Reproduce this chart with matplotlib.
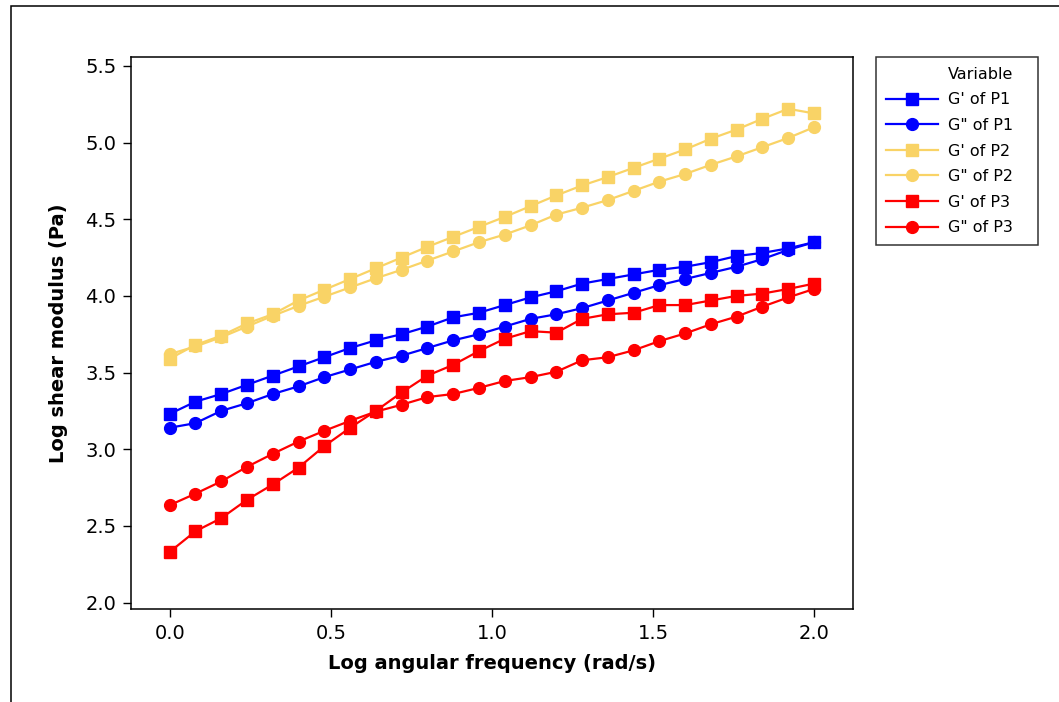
import numpy as np
import matplotlib
matplotlib.use('Agg')
import matplotlib.pyplot as plt
from matplotlib.lines import Line2D
from matplotlib.patches import Rectangle

# log angular frequency (rad/s)
log_freq = [0.00, 0.08, 0.16, 0.24, 0.32, 0.40, 0.48, 0.56, 0.64, 0.72, 0.80, 0.88, 0.96,
            1.04, 1.12, 1.20, 1.28, 1.36, 1.44, 1.52, 1.60, 1.68, 1.76, 1.84, 1.92, 2.00]

# log shear modulus (Pa)
g1_p1 = [3.23, 3.31, 3.36, 3.42, 3.48, 3.54, 3.60, 3.66, 3.71, 3.75, 3.80, 3.86, 3.89,
         3.94, 3.99, 4.03, 4.08, 4.11, 4.14, 4.17, 4.19, 4.22, 4.26, 4.28, 4.31, 4.35]
g2_p1 = [3.14, 3.17, 3.25, 3.30, 3.36, 3.41, 3.47, 3.52, 3.57, 3.61, 3.66, 3.71, 3.75,
         3.80, 3.85, 3.88, 3.92, 3.97, 4.02, 4.07, 4.11, 4.15, 4.19, 4.24, 4.30, 4.35]
g1_p2 = [3.59, 3.68, 3.74, 3.82, 3.88, 3.97, 4.04, 4.11, 4.18, 4.25, 4.32, 4.385, 4.45,
         4.515, 4.585, 4.655, 4.72, 4.775, 4.835, 4.895, 4.955, 5.025, 5.085, 5.155, 5.22, 5.19]
g2_p2 = [3.62, 3.67, 3.73, 3.80, 3.87, 3.935, 3.995, 4.055, 4.115, 4.17, 4.23, 4.29, 4.35,
         4.40, 4.46, 4.53, 4.575, 4.625, 4.685, 4.745, 4.795, 4.855, 4.91, 4.97, 5.03, 5.10]
g1_p3 = [2.33, 2.465, 2.55, 2.67, 2.77, 2.88, 3.02, 3.14, 3.25, 3.37, 3.48, 3.55, 3.64,
         3.72, 3.77, 3.76, 3.85, 3.88, 3.89, 3.94, 3.94, 3.97, 4.00, 4.015, 4.045, 4.08]
g2_p3 = [2.635, 2.71, 2.79, 2.885, 2.97, 3.05, 3.12, 3.185, 3.245, 3.29, 3.34, 3.36, 3.40,
         3.445, 3.47, 3.505, 3.58, 3.60, 3.645, 3.705, 3.755, 3.815, 3.865, 3.93, 3.99, 4.045]

labels = ["G' of P1", 'G" of P1', "G' of P2", 'G" of P2', "G' of P3", 'G" of P3']
series = [g1_p1, g2_p1, g1_p2, g2_p2, g1_p3, g2_p3]
colors = ['#0000FF', '#0000FF', '#F9D366', '#F9D366', '#FF0000', '#FF0000']
markers = ['s', 'o', 's', 'o', 's', 'o']

plt.rcParams['font.family'] = ['DejaVu Sans']

fig = plt.figure(figsize=(10.59, 7.02), dpi=100)
ax = fig.add_axes([0.1237, 0.1325, 0.6815, 0.7859])

for y, lab, c, m in zip(series, labels, colors, markers):
    ax.plot(log_freq, y, color=c, marker=m, markersize=8.5, linewidth=1.6, label=lab)

ax.set_xlim(-0.12, 2.12)
ax.set_ylim(1.958, 5.556)
ax.set_xticks([0.0, 0.5, 1.0, 1.5, 2.0])
ax.set_yticks([2.0, 2.5, 3.0, 3.5, 4.0, 4.5, 5.0, 5.5])
ax.xaxis.set_major_formatter(matplotlib.ticker.FormatStrFormatter('%.1f'))
ax.yaxis.set_major_formatter(matplotlib.ticker.FormatStrFormatter('%.1f'))
ax.tick_params(direction='out', length=6, width=1, labelsize=14, pad=4.5)
for sp in ax.spines.values():
    sp.set_linewidth(1.1)

ax.set_xlabel('Log angular frequency (rad/s)', fontsize=14, fontweight='bold', labelpad=8)
ax.set_ylabel('Log shear modulus (Pa)', fontsize=14, fontweight='bold', labelpad=12)

# legend with the "Variable" heading left-aligned with the labels
handles, labs = ax.get_legend_handles_labels()
head = Line2D([], [], linestyle='none', marker=None)
leg = fig.legend([head] + handles, ['Variable'] + [l + '   ' for l in labs],
                 loc='upper left', bbox_to_anchor=(876 / 1059, 1 - 57.3 / 702),
                 bbox_transform=fig.transFigure, borderaxespad=0,
                 fontsize=11.5, handlelength=3.3, handletextpad=0.6,
                 labelspacing=0.66, borderpad=0.6, fancybox=False,
                 frameon=True, edgecolor='black')
leg.get_frame().set_linewidth(1.1)

# outer frame of the exported graph window
fig.patches.append(Rectangle((11 / 1059, -0.5), 2, 1.5 - 6 / 702, transform=fig.transFigure,
                             fill=False, edgecolor='black', linewidth=1.1))

plt.savefig('out.png', dpi=100)
